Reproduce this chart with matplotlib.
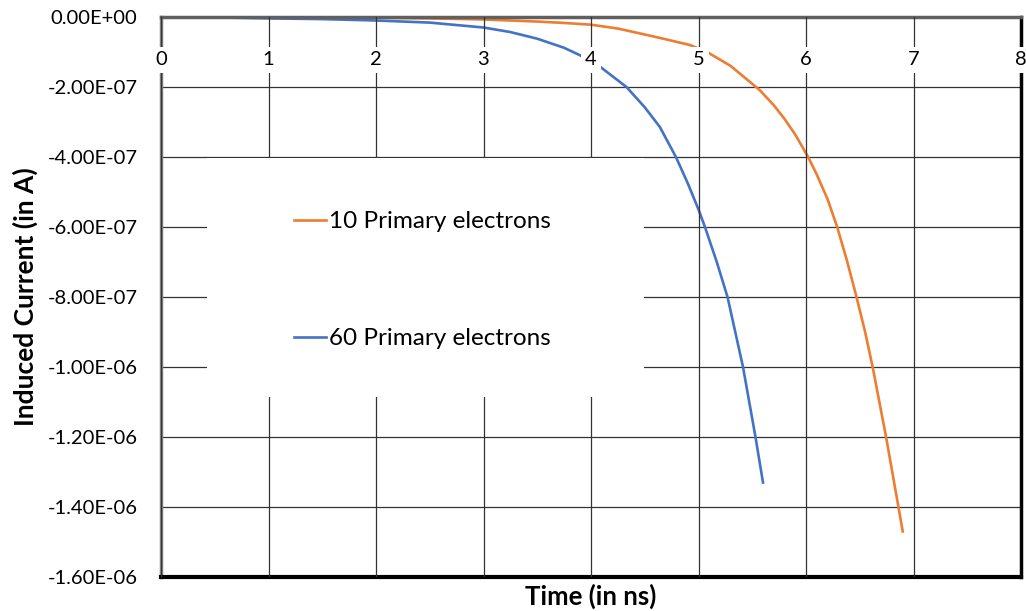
import matplotlib
matplotlib.use("Agg")
import matplotlib.pyplot as plt
from matplotlib.patches import Rectangle
from matplotlib.ticker import FuncFormatter, MultipleLocator

# --- data (time in ns, current in A) ---
t_10 = [0.0, 1.0, 2.0, 2.5, 3.0, 3.5, 3.75, 4.0, 4.25, 4.5, 4.7, 4.92, 5.08,
        5.3, 5.57, 5.7, 5.8, 5.9, 6.02, 6.1, 6.2, 6.29, 6.38, 6.47, 6.55,
        6.62, 6.745, 6.9]
i_10 = [0.0, -0.01e-7, -0.02e-7, -0.04e-7, -0.07e-7, -0.13e-7, -0.17e-7,
        -0.22e-7, -0.33e-7, -0.5e-7, -0.64e-7, -0.8e-7, -1.0e-7, -1.4e-7,
        -2.09e-7, -2.52e-7, -2.91e-7, -3.36e-7, -4.0e-7, -4.5e-7, -5.2e-7,
        -6.0e-7, -6.95e-7, -8.0e-7, -9.0e-7, -10.0e-7, -12.0e-7, -14.7e-7]

t_60 = [0.0, 0.5, 1.0, 1.5, 2.0, 2.5, 3.0, 3.25, 3.5, 3.75, 3.93, 4.08,
        4.33, 4.5, 4.64, 4.79, 4.9, 5.0, 5.06, 5.17, 5.27, 5.414, 5.53, 5.6]
i_60 = [0.0, -0.01e-7, -0.04e-7, -0.06e-7, -0.1e-7, -0.16e-7, -0.3e-7,
        -0.43e-7, -0.62e-7, -0.88e-7, -1.14e-7, -1.41e-7, -2.0e-7, -2.58e-7,
        -3.14e-7, -4.0e-7, -4.75e-7, -5.5e-7, -6.0e-7, -7.0e-7, -8.0e-7,
        -10.0e-7, -12.0e-7, -13.3e-7]

labels = ["10 Primary electrons", "60 Primary electrons"]
colors = ["#ED7D31", "#4472C4"]

plt.rcParams["font.family"] = ["Lato", "DejaVu Sans"]

fig = plt.figure(figsize=(10.26, 6.11), dpi=100)
ax = fig.add_axes([161 / 1026, 34 / 611, 860 / 1026, 560 / 611])

l10, = ax.plot(t_10, i_10, color=colors[0], lw=1.9, zorder=2)
l60, = ax.plot(t_60, i_60, color=colors[1], lw=1.9, zorder=2)

ax.set_xlim(0, 8)
ax.set_ylim(-1.6e-6, 0)
ax.xaxis.set_major_locator(MultipleLocator(1))
ax.yaxis.set_major_locator(MultipleLocator(2e-7))
ax.yaxis.set_major_formatter(FuncFormatter(lambda v, p: f"{v:.2E}"))

ax.grid(True, color="#333333", lw=0.9)

# x labels sit just under the zero line, like Excel's crossing axis
ax.tick_params(axis="x", bottom=False, labelbottom=False, top=True,
               labeltop=True, length=0, pad=-37, labelsize=14.5)
ax.tick_params(axis="y", length=0, pad=17, labelsize=14.5)
for t in ax.get_xticklabels(which="both"):
    t.set_bbox(dict(facecolor="white", edgecolor="none", pad=3))
ax.xaxis.set_zorder(3)

ax.spines["left"].set_color("#808080")
ax.spines["left"].set_linewidth(2.5)
ax.spines["top"].set_color("#606060")
ax.spines["top"].set_linewidth(2.5)
ax.spines["bottom"].set_color("black")
ax.spines["bottom"].set_linewidth(3)
ax.spines["right"].set_color("black")
ax.spines["right"].set_linewidth(2.5)

ax.set_ylabel("Induced Current (in A)", fontsize=19, fontweight="bold")
ax.yaxis.set_label_coords(-0.143, 0.5)
ax.set_xlabel("Time (in ns)", fontsize=18.5, fontweight="bold")
ax.xaxis.set_label_coords(0.5, -0.012)

# white legend area
ax.add_patch(Rectangle((0.0535, 0.321), 0.508, 0.427, transform=ax.transAxes,
                       facecolor="white", edgecolor="none", zorder=4))
leg = ax.legend([l10, l60], labels, loc="center left",
                bbox_to_anchor=(0.1547, 0.5295), frameon=False, fontsize=17.5,
                borderpad=0, borderaxespad=0, labelspacing=3.95,
                handlelength=1.3, handletextpad=0.12)
leg.set_zorder(5)

fig.savefig("out.png", dpi=100)
